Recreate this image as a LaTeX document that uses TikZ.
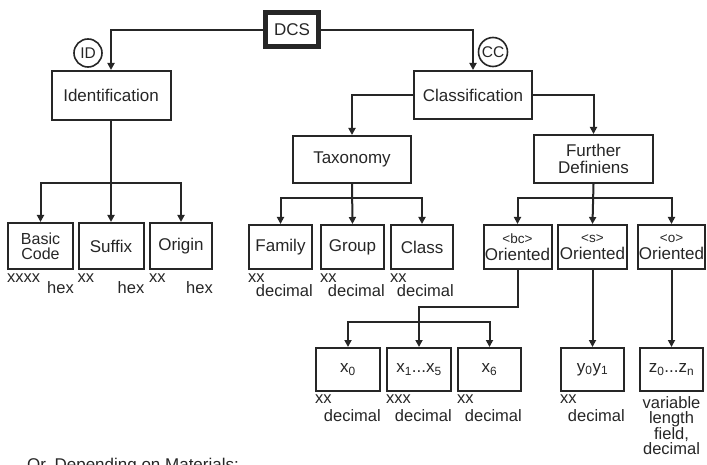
\documentclass[tikz,border=0pt]{standalone}
\usepackage{fontspec}
\setmainfont{Liberation Sans}
\usetikzlibrary{arrows.meta}

\tikzset{
  cbox/.style={draw=black!85, line width=2pt, inner sep=0pt, align=center, text=black!85, font=\fontsize{17}{17}\selectfont},
  tag/.style={circle, draw=black!85, line width=1.6pt, inner sep=0pt, font=\fontsize{15.5}{15.5}\selectfont, text=black!85},
  arr/.style={draw=black!85, line width=2pt, -{Triangle[length=7pt,width=7pt]}},
  note/.style={inner sep=0pt, text=black!85, font=\fontsize{16.5}{15.5}\selectfont},
}

\begin{document}
\begin{tikzpicture}[x=1pt,y=-1pt]
\useasboundingbox (0,0) rectangle (707,465);

% root and first level
\node[cbox, line width=5pt, minimum width=53pt, minimum height=34pt] (dcs) at (292,30) {DCS};
\node[cbox, minimum width=119pt, minimum height=49pt] (ident) at (111,95.5) {Identification};
\node[cbox, minimum width=118pt, minimum height=48pt] (classif) at (473,95) {Classification};
\node[tag, minimum size=28pt] (idtag) at (88,53) {ID};
\node[tag, minimum size=29pt] (cctag) at (493,52) {CC};

\draw[arr] (dcs.west) -| (ident.north);
\draw[arr] (dcs.east) -| (classif.north);

% second level
\node[cbox, minimum width=118pt, minimum height=47pt] (taxo) at (352,159.5) {Taxonomy};
\node[cbox, minimum width=119pt, minimum height=48pt] (further) at (593.5,159) {Further\\Definiens};

\draw[arr] (classif.west) -| (taxo.north);
\draw[arr] (classif.east) -| (further.north);

% third level
\node[cbox, font=\fontsize{16}{15}\selectfont, minimum width=65pt, minimum height=46pt] (basic) at (40.5,246) {Basic\\Code};
\node[cbox, minimum width=65pt, minimum height=46pt] (suffix) at (111,246) {Suffix};
\node[cbox, minimum width=62pt, minimum height=46pt] (origin) at (181,246) {Origin};

\node[cbox, minimum width=63pt, minimum height=44pt] (family) at (280.5,247) {Family};
\node[cbox, minimum width=63pt, minimum height=44pt] (group) at (352.5,247) {Group};
\node[cbox, minimum width=62pt, minimum height=44pt] (class) at (422,247) {Class};

\node[cbox, minimum width=68pt, minimum height=44pt] (bc) at (517.5,247) {{\fontsize{13.5}{13}\selectfont <bc>}\\Oriented};
\node[cbox, minimum width=69pt, minimum height=44pt] (s) at (592.5,247) {{\fontsize{13.5}{13}\selectfont <s>}\\Oriented};
\node[cbox, minimum width=67pt, minimum height=44pt] (o) at (671.5,247) {{\fontsize{13.5}{13}\selectfont <o>}\\Oriented};

\coordinate (idbar) at (111,183);
\draw[arr] (ident.south) -- (suffix.north);
\draw[arr] (idbar) -| (basic.north);
\draw[arr] (idbar) -| (origin.north);

\coordinate (taxbar) at (352,198);
\draw[arr] (taxo.south) -- (group.north);
\draw[arr] (taxbar) -| (family.north);
\draw[arr] (taxbar) -| (class.north);

\coordinate (fdbar) at (593,198);
\draw[arr] (further.south) -- (s.north);
\draw[arr] (fdbar) -| (bc.north);
\draw[arr] (fdbar) -| (o.north);

% fourth level
\node[cbox, minimum width=64pt, minimum height=43pt] (x0) at (348,369.5) {x\textsubscript{0}};
\node[cbox, minimum width=64pt, minimum height=43pt] (x1) at (419,369.5) {x\textsubscript{1}...x\textsubscript{5}};
\node[cbox, minimum width=63pt, minimum height=43pt] (x6) at (489.5,369.5) {x\textsubscript{6}};
\node[cbox, minimum width=63pt, minimum height=43pt] (yy) at (592.5,369.5) {y\textsubscript{0}y\textsubscript{1}};
\node[cbox, minimum width=63pt, minimum height=43pt] (zz) at (671.5,369.5) {z\textsubscript{0}...z\textsubscript{n}};

\draw[arr] (bc.south) -- ++(0,37) -| (x1.north);
\coordinate (xbar) at (419,322);
\draw[arr] (xbar) -| (x0.north);
\draw[arr] (xbar) -| (x6.north);
\draw[arr] (s.south) -- (yy.north);
\draw[arr] (o.south) -- (zz.north);

% formats below the boxes
\foreach \b/\n in {basic/xxxx, suffix/xx, origin/xx} {
  \node[note, anchor=base west] (\b-n) at ([yshift=-12pt]\b.south west) {\n};
  \node[note, anchor=base east] (\b-r) at ([yshift=-24pt]\b.south east) {hex};
}
\foreach \b in {family, group, class} {
  \node[note, anchor=base west] (\b-n) at ([yshift=-12pt]\b.south west) {xx};
  \node[note, anchor=base east] (\b-r) at ([yshift=-26pt]\b.south east) {decimal};
}
\foreach \b/\n in {x0/xx, x1/xxx, x6/xx, yy/xx} {
  \node[note, anchor=base west] (\b-n) at ([yshift=-11pt]\b.south west) {\n};
  \node[note, anchor=base east] (\b-r) at ([yshift=-29pt]\b.south east) {decimal};
}
\node[note, anchor=north, align=center] (zz-r) at ([yshift=-4pt]zz.south) {variable\\length\\field,\\decimal};

\node[note, font=\fontsize{17}{17}\selectfont, anchor=base west] (mat) at (27,470) {Or, Depending on Materials:};
\end{tikzpicture}
\end{document}
